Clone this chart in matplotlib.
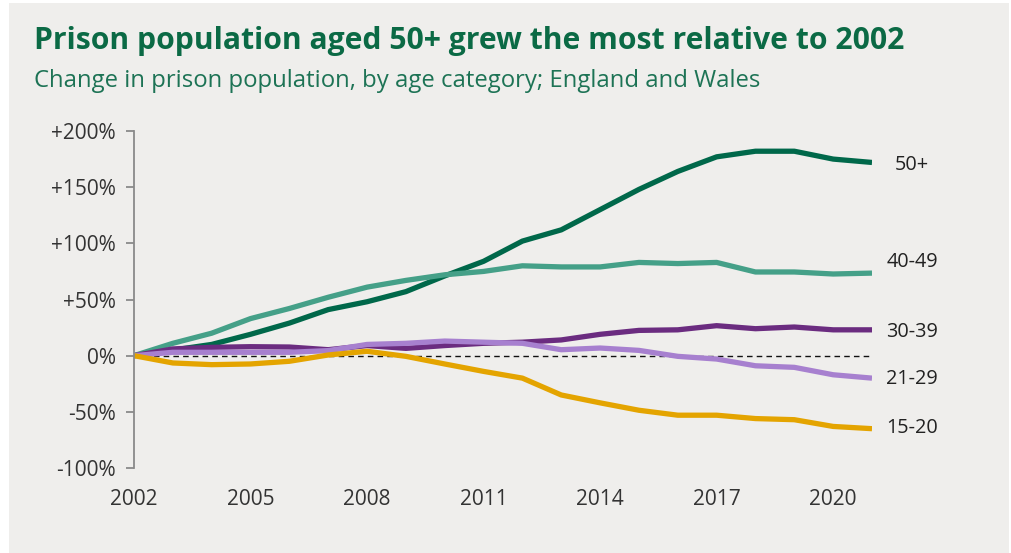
import matplotlib.pyplot as plt
from matplotlib.patches import Rectangle
from matplotlib.ticker import FuncFormatter

years = list(range(2002, 2022))

age_groups = ['50+', '40-49', '30-39', '21-29', '15-20']

# % change relative to 2002
over_50 = [0, 5, 10, 19, 29, 41, 48, 57, 71, 84, 102, 112, 130, 148, 164, 177, 182, 182, 175, 172]
aged_40_49 = [0, 11, 20, 33, 42, 52, 61, 67, 72, 75, 80, 79, 79, 83, 82, 83, 74.5, 74.5, 72.7, 73.5]
aged_30_39 = [0, 6, 7.4, 8, 7.7, 5.3, 9, 6.5, 9, 11, 12, 14, 19, 22.5, 23, 26.7, 24, 25.5, 23, 23]
aged_21_29 = [0, 3, 3, 3, 3, 4.5, 10, 11, 13, 12, 11, 5.3, 6.8, 4.7, -0.6, -3, -9, -10.4, -17, -20]
aged_15_20 = [0, -6.5, -8, -7.4, -5, 0.6, 3.9, -0.6, -7.4, -14, -20, -35, -42, -48.6, -53, -53, -56, -57, -63, -65]

series = [over_50, aged_40_49, aged_30_39, aged_21_29, aged_15_20]
colors = ['#00684a', '#45a088', '#6b2c80', '#a780cf', '#e4a400']
label_nudge = [-2.5, 9.5, -1.5, -1.2, 0.2]

x_ticks = [2002, 2005, 2008, 2011, 2014, 2017, 2020]
y_ticks = [-100, -50, 0, 50, 100, 150, 200]

fig = plt.figure(figsize=(10.11, 5.53), dpi=100)
fig.patch.set_facecolor('white')
fig.patches.append(Rectangle((9 / 1011, 0), 1000 / 1011, 550 / 553,
                             transform=fig.transFigure, facecolor='#efeeec',
                             edgecolor='none', zorder=-5))

ax = fig.add_axes([134 / 1011, 1 - 468 / 553, (872 - 134) / 1011, (468 - 131) / 553])
ax.set_facecolor('none')
ax.set_zorder(2)

ax.axhline(0, xmin=0, xmax=1, color='#111111', lw=1, ls=(0, (4, 3)), zorder=1)

for name, vals, c, nudge in zip(age_groups, series, colors, label_nudge):
    ax.plot(years, vals, color=c, lw=3.8, solid_capstyle='butt', zorder=2)
    ax.text(years[-1] + 1.03, vals[-1] + nudge, name, fontsize=14.3,
            family='Open Sans', color='#222222', va='center', ha='center')

ax.set_xlim(2002, 2021)
ax.set_ylim(-100, 200)
ax.set_xticks(x_ticks)
ax.set_yticks(y_ticks)
ax.yaxis.set_major_formatter(FuncFormatter(lambda v, p: '0%' if v == 0 else f'{v:+.0f}%'))

for s in ['top', 'right', 'bottom']:
    ax.spines[s].set_visible(False)
ax.spines['left'].set_color('#8a8a8a')
ax.spines['left'].set_linewidth(1.3)
ax.tick_params(axis='y', length=6, width=1.3, color='#8a8a8a', pad=7,
               labelsize=15, labelcolor='#333333')
ax.tick_params(axis='x', length=0, pad=15, labelsize=15, labelcolor='#333333')
for lab in ax.get_xticklabels() + ax.get_yticklabels():
    lab.set_family('Open Sans')

fig.text(34 / 1011, 1 - 41 / 553, 'Prison population aged 50+ grew the most relative to 2002',
         fontsize=21.7, fontweight='bold', family='Open Sans', color='#0b6a45', va='center')
fig.text(34 / 1011, 1 - 81 / 553, 'Change in prison population, by age category; England and Wales',
         fontsize=17.2, family='Open Sans', color='#1d7355', va='center')

fig.savefig('out.png', dpi=100)
